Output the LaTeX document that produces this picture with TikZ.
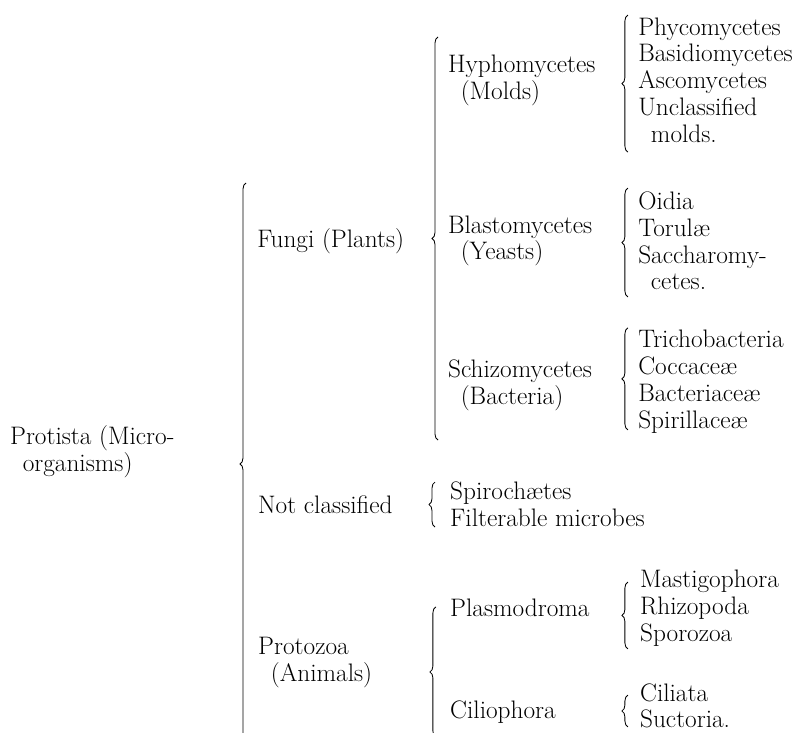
\documentclass[tikz,border=0pt]{standalone}
\usepackage{tikz}
\usetikzlibrary{decorations.pathreplacing}

\begin{document}
\begin{tikzpicture}[
    label/.style={anchor=west, inner sep=0pt, align=left, font=\fontsize{24}{25.5}\selectfont},
    group brace/.style={decorate, decoration={brace, amplitude=0.2cm}, line width=0.8pt}
]

    \useasboundingbox (0, 0) rectangle (26.6, -24.43);
    \clip (0, 0) rectangle (26.6, -24.43);

    % ================= MAIN GROUPS =================
    \node[label] (PROTISTA) at (0.33, -15.07) {Protista (Micro-\\\enskip organisms)};
    \node[label] (FUNGI) at (8.57, -8.03) {Fungi (Plants)};
    \node[label] (NOTCL) at (8.6, -16.83) {Not classified};
    \node[label] (PROTOZOA) at (8.6, -22.07) {Protozoa\\\enskip(Animals)};

    % ================= SUB GROUPS =================
    \node[label] (HYPHO) at (14.93, -2.67) {Hyphomycetes\\\enskip(Molds)};
    \node[label] (BLASTO) at (14.93, -8.03) {Blastomycetes\\\enskip(Yeasts)};
    \node[label] (SCHIZO) at (14.93, -12.83) {Schizomycetes\\\enskip(Bacteria)};
    \node[label] (NOTCL_LIST) at (15, -16.8) {Spirochætes\\Filterable microbes};
    \node[label] (PLASMO) at (15, -20.27) {Plasmodroma};
    \node[label] (CILIO) at (15, -23.73) {Ciliophora};

    % ================= LISTS =================
    \node[label] (HYPHO_LIST) at (21.27, -2.67) {Phycomycetes\\Basidiomycetes\\Ascomycetes\\Unclassified\\\enskip molds.};
    \node[label] (BLASTO_LIST) at (21.27, -8.03) {Oidia\\Torulæ\\Saccharomy-\\\enskip cetes.};
    \node[label] (SCHIZO_LIST) at (21.27, -12.73) {Trichobacteria\\Coccaceæ\\Bacteriaceæ\\Spirillaceæ};
    \node[label] (PLASMO_LIST) at (21.33, -20.27) {Mastigophora\\Rhizopoda\\Sporozoa};
    \node[label] (CILIO_LIST) at (21.33, -23.53) {Ciliata\\Suctoria.};

    % ================= BRACES =================
    \coordinate (PROTISTA_B1) at (8.2, -24.83);
    \coordinate (PROTISTA_B2) at (8.2, -6.1);
    \coordinate (FUNGI_B1) at (14.6, -14.67);
    \coordinate (FUNGI_B2) at (14.6, -1.23);
    \coordinate (NOTCL_B1) at (14.5, -17.57);
    \coordinate (NOTCL_B2) at (14.5, -16.07);
    \coordinate (PROTOZOA_B1) at (14.53, -24.57);
    \coordinate (PROTOZOA_B2) at (14.53, -20.23);
    \coordinate (HYPHO_B1) at (20.93, -5.07);
    \coordinate (HYPHO_B2) at (20.93, -0.5);
    \coordinate (BLASTO_B1) at (20.93, -9.9);
    \coordinate (BLASTO_B2) at (20.93, -6.27);
    \coordinate (SCHIZO_B1) at (20.93, -14.33);
    \coordinate (SCHIZO_B2) at (20.93, -10.93);
    \coordinate (PLASMO_B1) at (20.93, -21.63);
    \coordinate (PLASMO_B2) at (20.93, -19.4);
    \coordinate (CILIO_B1) at (20.93, -24.23);
    \coordinate (CILIO_B2) at (20.93, -23.17);

    \draw[group brace] (PROTISTA_B1) -- (PROTISTA_B2);
    \draw[group brace] (FUNGI_B1) -- (FUNGI_B2);
    \draw[group brace] (NOTCL_B1) -- (NOTCL_B2);
    \draw[group brace] (PROTOZOA_B1) -- (PROTOZOA_B2);
    \draw[group brace] (HYPHO_B1) -- (HYPHO_B2);
    \draw[group brace] (BLASTO_B1) -- (BLASTO_B2);
    \draw[group brace] (SCHIZO_B1) -- (SCHIZO_B2);
    \draw[group brace] (PLASMO_B1) -- (PLASMO_B2);
    \draw[group brace] (CILIO_B1) -- (CILIO_B2);

\end{tikzpicture}
\end{document}
